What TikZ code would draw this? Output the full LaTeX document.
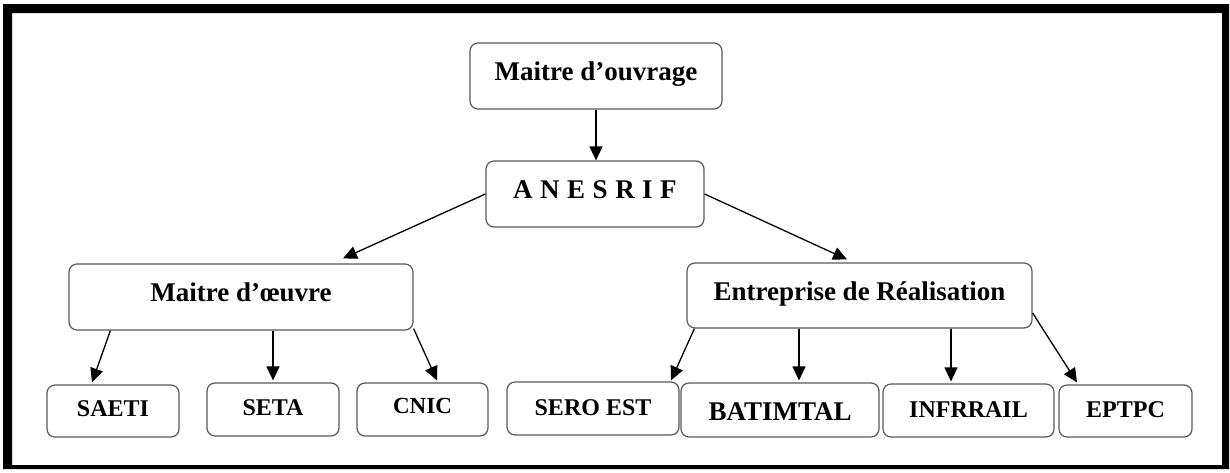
\documentclass[tikz,border=0pt]{standalone}
\usepackage{fontspec}
\setmainfont{Liberation Serif}
\usetikzlibrary{arrows.meta,calc}
\begin{document}
\begin{tikzpicture}[x=1pt,y=-1pt,
  box/.style={draw=black!65, line width=1.2pt, rounded corners=8pt, inner sep=0pt, text depth=0pt, anchor=center},
  big/.style={font=\fontsize{27}{30}\selectfont\bfseries},
  small/.style={font=\fontsize{24}{27}\selectfont\bfseries},
  conn/.style={line width=1.3pt, -{Triangle[length=14pt,width=13pt]}}]
\useasboundingbox (0,0) rectangle (1230,472);
\fill[white] (0,0) rectangle (1230,472);
\fill[black, even odd rule] (3,4) rectangle (1229,469) (12,13) rectangle (1222,465);
% top level
\node[box, big, minimum width=252pt, minimum height=66pt, text height=8pt] (mo) at (596,76) {Maitre d’ouvrage};
\node[box, big, minimum width=218pt, minimum height=66pt, text height=8pt] (an) at (595,194) {A\hspace{7.5pt}N\hspace{7.5pt}E\hspace{7.5pt}S\hspace{7.5pt}R\hspace{7.5pt}I\hspace{7.5pt}F\hspace{17pt}};
\node[box, big, minimum width=344pt, minimum height=66pt, text height=8pt] (moe) at (241,297) {Maitre d’œuvre};
\node[box, big, minimum width=345pt, minimum height=65pt, text height=9pt] (er) at (859.5,295.5) {Entreprise de Réalisation\hspace{6pt}};
% bottom level
\node[box, small, minimum width=132pt, minimum height=52pt, text height=11.4pt] (saeti) at (113,411) {SAETI};
\node[box, small, minimum width=132pt, minimum height=53pt, text height=12.4pt] (seta) at (273,409.5) {SETA};
\node[box, font=\fontsize{23}{26}\selectfont\bfseries, minimum width=131pt, minimum height=53pt, text height=7pt] (cnic) at (422.5,409.5) {CNIC\hspace{40pt}};
\node[box, small, minimum width=172pt, minimum height=53pt, text height=13pt] (sero) at (593,408.5) {SERO EST};
\node[box, font=\fontsize{27}{30}\selectfont\bfseries, minimum width=198pt, minimum height=54pt, text height=20pt] (bat) at (780,410) {BATIMTAL};
\node[box, small, minimum width=171pt, minimum height=53pt, text height=13pt] (infr) at (968.5,410.5) {INFRRAIL};
\node[box, small, minimum width=133pt, minimum height=52pt, text height=13.4pt] (ep) at (1125.5,411) {EPTPC};
% connector end points
\coordinate (batT) at ($(bat.north)+(19,-2)$);
\coordinate (infT) at ($(infr.north)+(-17.5,-2)$);
% connectors
\draw[conn] (mo.south) -- (mo.south |- an.north);
\draw[conn] (an.west) -- ($(moe.north)+(102,-5)$);
\draw[conn] (an.east) -- ($(er.north)+(-12.5,-3)$);
\draw[conn] ($(moe.south west)+(42,0)$) -- ($(saeti.north)+(-21,-2)$);
\draw[conn] (seta.north |- moe.south) -- ($(seta.north)+(0,-2)$);
\draw[conn] ($(moe.south east)+(0,-2)$) -- ($(cnic.north)+(14.5,-2)$);
\draw[conn] ($(er.south west)+(8,0)$) -- ($(sero.north)+(78,-1)$);
\draw[conn] (batT |- er.south) -- (batT);
\draw[conn] (infT |- er.south) -- (infT);
\draw[conn] ($(er.east)+(0,17.5)$) -- ($(ep.north)+(-48.5,-2)$);
\end{tikzpicture}
\end{document}
